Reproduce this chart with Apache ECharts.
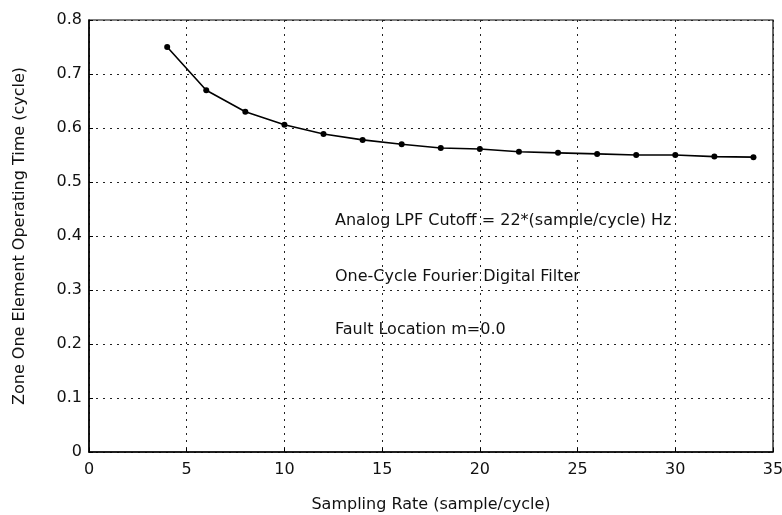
<!DOCTYPE html>
<html><head><meta charset="utf-8">
<script src="https://cdn.jsdelivr.net/npm/echarts@6/dist/echarts.min.js"></script>
<style>html,body{margin:0;padding:0;background:#fff}#c{width:782px;height:515px}</style>
</head><body><div id="c"></div>
<script>
const samplingRates = [4,6,8,10,12,14,16,18,20,22,24,26,28,30,32,34];
const operatingTimes = [0.750,0.670,0.630,0.606,0.589,0.578,0.570,0.563,0.561,0.556,0.554,0.552,0.550,0.550,0.547,0.546];
const annotations = ["Analog LPF Cutoff = 22*(sample/cycle) Hz","One-Cycle Fourier Digital Filter","Fault Location m=0.0"];
const xTitle = "Sampling Rate (sample/cycle)";
const yTitle = "Zone One Element Operating Time (cycle)";

const chart = echarts.init(document.getElementById('c'));
const font = 'DejaVu Sans';
chart.setOption({
  animation:false,
  backgroundColor:'#fff',
  grid:{left:89,right:9,top:20,bottom:63,show:true,borderColor:'#000',borderWidth:1.2,outerBoundsMode:'none',containLabel:false},
  xAxis:{type:'value',min:0,max:35,interval:5,
    name:xTitle,nameLocation:'middle',nameGap:45,
    nameTextStyle:{fontFamily:font,fontSize:16,color:'#111'},
    axisLine:{lineStyle:{color:'#000',width:1.5}},
    axisTick:{inside:true,length:4,lineStyle:{color:'#000'}},
    axisLabel:{fontFamily:font,fontSize:16,color:'#111',margin:10},
    splitLine:{show:true,lineStyle:{color:'#222',type:[2,5],width:1}}},
  yAxis:{type:'value',min:0,max:0.8,interval:0.1,
    name:yTitle,nameLocation:'middle',nameGap:61,
    nameTextStyle:{fontFamily:font,fontSize:16,color:'#111'},
    axisLine:{lineStyle:{color:'#000',width:1.5}},
    axisTick:{inside:true,length:4,lineStyle:{color:'#000'}},
    axisLabel:{fontFamily:font,fontSize:16,color:'#111',margin:7,formatter:v=>String(+v.toFixed(1))},
    splitLine:{show:true,lineStyle:{color:'#222',type:[2,5],width:1}}},
  series:[{type:'line',data:samplingRates.map((x,i)=>[x,operatingTimes[i]]),
    symbol:'circle',symbolSize:6,smooth:false,
    lineStyle:{color:'#000',width:1.6},itemStyle:{color:'#000'}}],
  graphic:annotations.map((t,i)=>({type:'text',left:335,top:[213,269,322][i],
    style:{text:t,fontFamily:font,fontSize:16,fill:'#111'}}))
});
</script></body></html>
